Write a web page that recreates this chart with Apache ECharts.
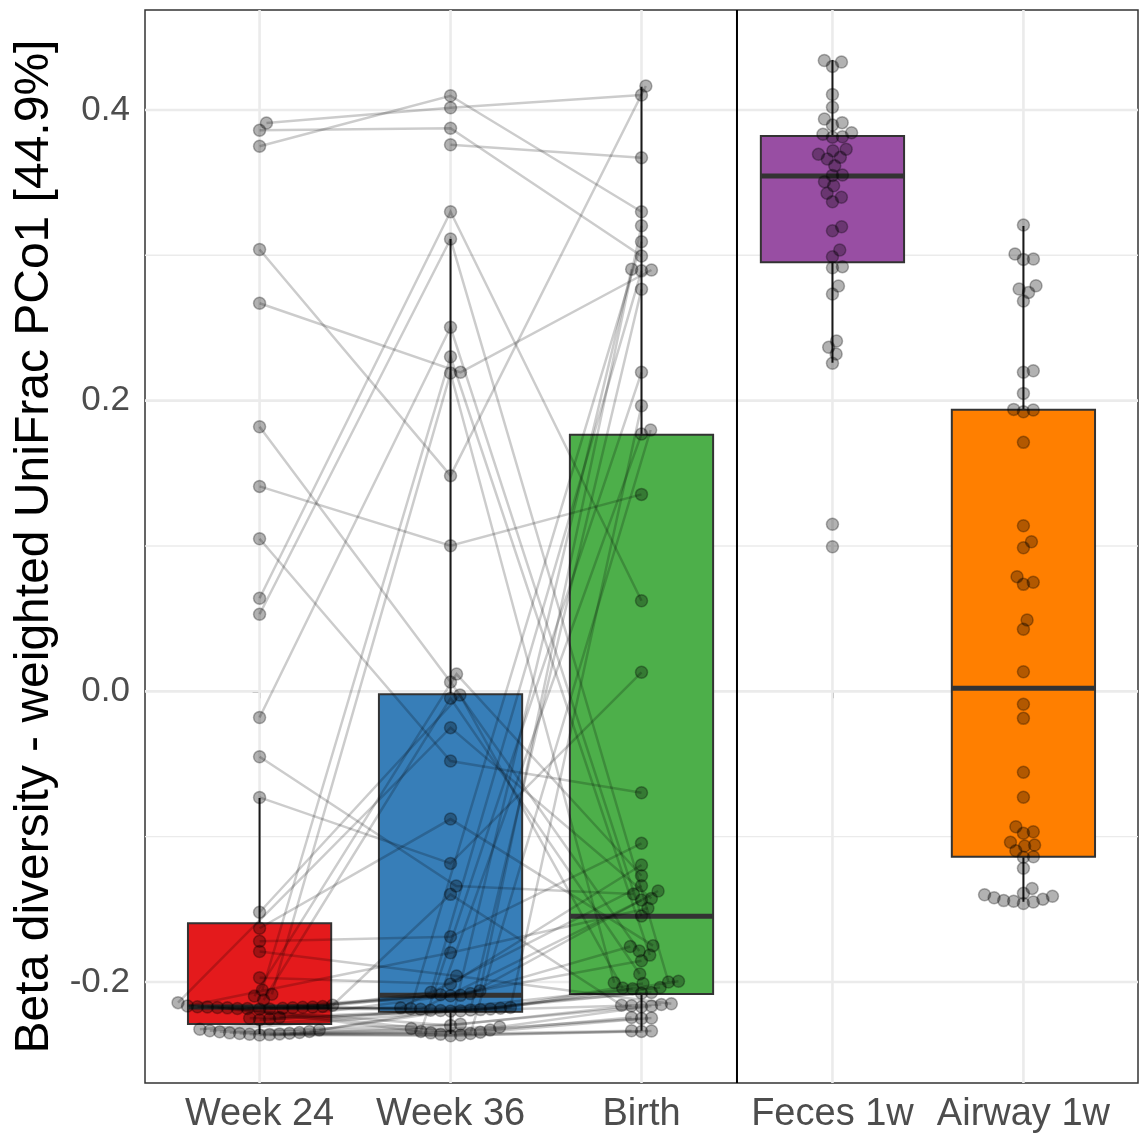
<!DOCTYPE html>
<html>
<head>
<meta charset="utf-8">
<script src="https://cdn.jsdelivr.net/npm/echarts@6/dist/echarts.min.js"></script>
<style>
html,body{margin:0;padding:0;background:#fff;}
#chart{width:1143px;height:1136px;}
</style>
</head>
<body>
<div id="chart"></div>
<script>
// ---------- data ----------
const categories = ['Week 24', 'Week 36', 'Birth', 'Feces 1w', 'Airway 1w'];
const boxColors = ['#E41A1C', '#377EB8', '#4DAF4A', '#984EA3', '#FF7F00'];
const yAxisTitle = 'Beta diversity - weighted UniFrac PCo1 [44.9%]';
const yTicks = [-0.2, 0.0, 0.2, 0.4];
const yMinorTicks = [-0.1, 0.1, 0.3];
const xTicks = [0, 1, 2, 3, 4];

// paired subjects (same index = same subject)
const week24 = [0.391, 0.386, 0.375, null, 0.304, 0.267, 0.182, 0.141, 0.105, 0.064,
  0.053, -0.018, -0.045, -0.073, -0.152, -0.163, -0.172, -0.179, -0.197, -0.2055,
  -0.2085, -0.2097, -0.2124, -0.2142, -0.2160, -0.2165, -0.2168, -0.2170, -0.2172, -0.2172,
  -0.2174, -0.2175, -0.2177, -0.2178, -0.2180, -0.2182, -0.2183, -0.2185, -0.2187, -0.2245,
  -0.2250, -0.2255, -0.2260, -0.2325, -0.2330, -0.2335, -0.2340, -0.2343, -0.2347, -0.2350,
  -0.2352, -0.2355, -0.2357, -0.2360, -0.2362, -0.2365];
const week36 = [0.4016, 0.3874, 0.4098, 0.3761, 0.1484, 0.2195, 0.0064, 0.1002, -0.048, 0.330,
  0.3112, 0.2505, -0.134, -0.1184, -0.0025, -0.0879, -0.1689, -0.1959, -0.2014, 0.2302,
  0.2190, 0.0119, -0.0048, -0.025, -0.1397, -0.1799, -0.2060, -0.2183, -0.2300, -0.2070,
  -0.2192, -0.2340, -0.2175, -0.2355, -0.2088, -0.2178, -0.2080, -0.2188, -0.2092, -0.2095,
  -0.2180, -0.2185, -0.2190, -0.2194, -0.2196, -0.2198, -0.2200, -0.2290, -0.2310, -0.2320,
  -0.2330, -0.2345, -0.2350, -0.2360, -0.2365, -0.2370];
const birth = [0.4103, 0.2995, 0.330, 0.3672, 0.4165, 0.2899, -0.1787, 0.1355, -0.0698, 0.0623,
  -0.2000, -0.1546, -0.1395, 0.0131, -0.2042, -0.1750, -0.1046, -0.2150, -0.1195, -0.1815,
  -0.2005, -0.1269, -0.1945, -0.1425, -0.2160, -0.1493, 0.3204, 0.3094, 0.2905, 0.2893,
  0.2766, 0.2195, 0.1965, 0.1798, 0.177, -0.1338, -0.1374, -0.1436, -0.1756, -0.1854,
  -0.1995, -0.2010, -0.2038, -0.2046, -0.2072, -0.2078, -0.2155, -0.2163, -0.2166, -0.2170,
  -0.2245, -0.2248, -0.2251, -0.2335, -0.2337, -0.2340];
const feces1w = [0.434, 0.433, 0.430, 0.4107, 0.4019, 0.3938, 0.3913, 0.3897, 0.3844, 0.3833,
  0.3816, 0.3812, 0.373, 0.372, 0.3695, 0.3674, 0.3663, 0.3617, 0.3553, 0.3550,
  0.3507, 0.3479, 0.3427, 0.340, 0.3369, 0.3197, 0.3169, 0.3037, 0.299, 0.2922,
  0.2915, 0.2789, 0.2734, 0.241, 0.2367, 0.2321, 0.2257, 0.1149, 0.0995];
const airway1w = [0.3208, 0.3009, 0.2975, 0.2972, 0.2791, 0.2768, 0.2745, 0.2686, 0.2206, 0.2195,
  0.2050, 0.1940, 0.1936, 0.1924, 0.1713, 0.1139, 0.1029, 0.0988, 0.0789, 0.0750,
  0.0736, 0.0491, 0.0427, 0.0135, -0.0089, -0.0186, -0.0557, -0.0729, -0.0932, -0.0966,
  -0.0977, -0.1039, -0.1058, -0.1064, -0.1097, -0.1138, -0.1142, -0.1218, -0.1356, -0.1390,
  -0.1400, -0.1410, -0.1420, -0.1430, -0.1440, -0.1445, -0.1450, -0.1460];

// box statistics per category
const boxLow    = [-0.2358, -0.2358, -0.2335, 0.2261, -0.1448];
const boxQ1     = [-0.2289, -0.2205, -0.2083, 0.2952, -0.1138];
const boxMedian = [-0.2172, -0.2092, -0.1548, 0.3546, 0.0021];
const boxQ3     = [-0.1596, -0.0020, 0.1766, 0.3821, 0.1938];
const boxHigh   = [-0.0734, 0.3112, 0.4160, 0.4344, 0.3202];

// ---------- layout constants ----------
const W = 1143, H = 1136;
const G = {left: 145, right: 5, top: 10, bottom: 53};
const X_MIN = -0.6, X_MAX = 4.6;
const Y_MIN = -0.2695, Y_MAX = 0.4688;
const gridW = W - G.left - G.right, gridH = H - G.top - G.bottom;
const sx = gridW / (X_MAX - X_MIN), sy = gridH / (Y_MAX - Y_MIN);
const DOT = 10; // swarm spacing in px

// beeswarm (swarm method, ascending priority)
function swarmOffsets(vals) {
  const items = vals.map((v, i) => ({v, i})).filter(o => o.v != null).sort((a, b) => a.v - b.v);
  const placed = [];
  const out = new Array(vals.length).fill(null);
  for (const it of items) {
    const y = it.v * sy;
    const cands = [0];
    for (const p of placed) {
      const dy = Math.abs(p.y - y);
      if (dy < DOT) { const dx = Math.sqrt(DOT * DOT - dy * dy); cands.push(p.x + dx, p.x - dx); }
    }
    const order = cands.map((c, k) => ({c, k})).sort((a, b) => (Math.abs(a.c) - Math.abs(b.c)) || (a.k - b.k));
    let chosen = 0;
    for (const o of order) {
      let ok = true;
      for (const p of placed) {
        const dx = o.c - p.x, dy = p.y - y;
        if (dx * dx + dy * dy < DOT * DOT - 0.01) { ok = false; break; }
      }
      if (ok) { chosen = o.c; break; }
    }
    placed.push({x: chosen, y});
    out[it.i] = chosen / sx;
  }
  return out;
}

const groups = [week24, week36, birth, feces1w, airway1w];
const offsets = groups.map(swarmOffsets);

const pointData = [];
groups.forEach((vals, g) => vals.forEach((v, i) => {
  if (v != null) pointData.push([g + offsets[g][i], v]);
}));

const pairLines = [];
for (let s = 0; s < week36.length; s++) {
  const coords = [];
  [week24, week36, birth].forEach((arr, g) => {
    if (arr[s] != null) coords.push([g + offsets[g][s], arr[s]]);
  });
  if (coords.length > 1) pairLines.push({coords});
}

const boxData = categories.map((c, i) => [i, boxLow[i], boxQ1[i], boxMedian[i], boxQ3[i], boxHigh[i]]);

// gridline definitions: [kind, value]
const gridData = [];
yMinorTicks.forEach(v => gridData.push(['yminor', v]));
yTicks.forEach(v => gridData.push(['ymajor', v]));
xTicks.forEach(v => gridData.push(['xmajor', v]));

const FONT = '"Liberation Sans", Arial, Helvetica, sans-serif';

const chart = echarts.init(document.getElementById('chart'), null, {renderer: 'canvas'});
chart.setOption({
  animation: false,
  backgroundColor: '#ffffff',
  grid: {left: G.left, right: G.right, top: G.top, bottom: G.bottom, show: true,
         borderColor: '#333333', borderWidth: 1.5, backgroundColor: '#ffffff'},
  xAxis: {
    type: 'value', min: X_MIN, max: X_MAX,
    axisLine: {show: false},
    splitLine: {show: false},
    axisTick: {show: true, customValues: xTicks, length: 7, lineStyle: {color: '#333333', width: 1.5}},
    axisLabel: {customValues: xTicks, formatter: v => categories[Math.round(v)], fontSize: 38,
                color: '#4D4D4D', fontFamily: FONT, margin: 13}
  },
  yAxis: {
    type: 'value', min: Y_MIN, max: Y_MAX,
    axisLine: {show: false},
    splitLine: {show: false},
    axisTick: {show: true, customValues: yTicks, length: 7, lineStyle: {color: '#333333', width: 1.5}},
    axisLabel: {customValues: yTicks, formatter: v => v.toFixed(1), fontSize: 35,
                color: '#4D4D4D', fontFamily: FONT, margin: 15},
    name: yAxisTitle, nameLocation: 'middle', nameGap: 81,
    nameTextStyle: {fontSize: 48, color: '#000000', fontFamily: FONT}
  },
  series: [
    {
      type: 'custom', z: 1, silent: true, clip: true,
      data: gridData,
      renderItem: (params, api) => {
        const kind = gridData[params.dataIndex][0];
        const v = gridData[params.dataIndex][1];
        let p1, p2;
        if (kind === 'xmajor') { p1 = api.coord([v, Y_MIN]); p2 = api.coord([v, Y_MAX]); }
        else { p1 = api.coord([X_MIN, v]); p2 = api.coord([X_MAX, v]); }
        return {type: 'line', shape: {x1: p1[0], y1: p1[1], x2: p2[0], y2: p2[1]},
                style: {stroke: '#EBEBEB', lineWidth: kind === 'yminor' ? 1.4 : 2.6}};
      }
    },
    {
      type: 'custom', z: 2, silent: true,
      data: [[2.5]],
      renderItem: (params, api) => {
        const p1 = api.coord([2.5, Y_MIN]), p2 = api.coord([2.5, Y_MAX]);
        return {type: 'line', shape: {x1: p1[0], y1: p1[1], x2: p2[0], y2: p2[1]},
                style: {stroke: '#000000', lineWidth: 2}};
      }
    },
    {
      type: 'custom', z: 3, silent: true,
      data: boxData,
      renderItem: (params, api) => {
        const i = api.value(0);
        const half = 0.375;
        const lo = api.coord([i, api.value(1)]);
        const q1 = api.coord([i, api.value(2)]);
        const md = api.coord([i, api.value(3)]);
        const q3 = api.coord([i, api.value(4)]);
        const hi = api.coord([i, api.value(5)]);
        const xl = api.coord([i - half, 0])[0], xr = api.coord([i + half, 0])[0];
        return {type: 'group', children: [
          {type: 'line', shape: {x1: hi[0], y1: hi[1], x2: q3[0], y2: q3[1]}, style: {stroke: '#1A1A1A', lineWidth: 2}},
          {type: 'line', shape: {x1: lo[0], y1: lo[1], x2: q1[0], y2: q1[1]}, style: {stroke: '#1A1A1A', lineWidth: 2}},
          {type: 'rect', shape: {x: xl, y: q3[1], width: xr - xl, height: q1[1] - q3[1]},
           style: {fill: boxColors[i], stroke: '#333333', lineWidth: 2}},
          {type: 'line', shape: {x1: xl, y1: md[1], x2: xr, y2: md[1]}, style: {stroke: '#333333', lineWidth: 5}}
        ]};
      }
    },
    {
      type: 'lines', coordinateSystem: 'cartesian2d', polyline: true, z: 4, silent: true,
      data: pairLines,
      lineStyle: {color: 'rgba(0,0,0,0.2)', width: 2.5, opacity: 1}
    },
    {
      type: 'scatter', z: 5, silent: true,
      data: pointData,
      symbol: 'circle', symbolSize: 12,
      itemStyle: {color: 'rgba(0,0,0,0.3)', borderColor: 'rgba(0,0,0,0.3)', borderWidth: 1.5, opacity: 1}
    }
  ]
});
</script>
</body>
</html>
